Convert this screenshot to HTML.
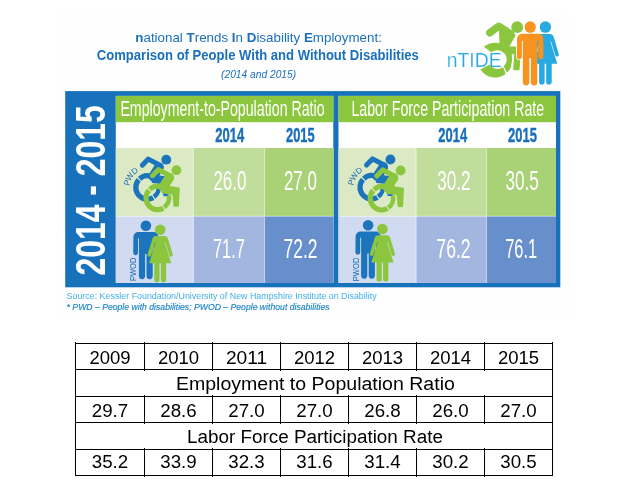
<!DOCTYPE html>
<html lang="en">
<head>
<meta charset="utf-8">
<title>nTIDE: National Trends in Disability Employment</title>
<style>
html,body{margin:0;padding:0;background:#fff;}
body{width:626px;height:504px;overflow:hidden;font-family:"Liberation Sans",sans-serif;}
svg{display:block;}
svg text{font-family:"Liberation Sans",sans-serif;}
</style>
</head>
<body>
<svg width="626" height="504" viewBox="0 0 626 504">
<defs>
  <!-- accessible icon, origin = wheel centre -->
  <g id="wc">
    <circle cx="18.75" cy="-27.8" r="4.9" stroke="none"/>
    <path d="M13,-22 L0.8,-28.4 L-5.2,-22.3" fill="none" stroke-width="5" stroke-linecap="round" stroke-linejoin="round"/>
    <path d="M11.6,-20.3 L5.6,-11" fill="none" stroke-width="9.6" stroke-linecap="round"/>
    <path d="M5,-12.4 L21.3,-9.7 L20.3,8 L16.6,8 L15.4,-4 L5,-5.2 Z" stroke-width="1.6" stroke-linejoin="round"/>
    <path d="M4.00,-10.99 A11.7,11.7 0 0 0 -7.90,-8.63 M-8.76,-7.75 A11.7,11.7 0 0 0 5.67,10.23" fill="none" stroke-width="5.2"/>
    <path d="M6.48,9.26 A11.3,11.3 0 0 0 10.96,-2.73" fill="none" stroke-width="4.6"/>
  </g>
  <g id="man">
    <circle cx="0" cy="-41.5" r="5.3"/>
    <path d="M-12.5,-30.5 a4.8,4.8 0 0 1 4.8,-4.8 h15.4 a4.8,4.8 0 0 1 4.8,4.8 v16 a2.4,2.4 0 0 1 -4.8,0 v-14.5 h-0.9 v37.8 a3.1,3.1 0 0 1 -6.2,0 v-22 h-1.4 v22 a3.1,3.1 0 0 1 -6.2,0 v-37.8 h-0.9 v14.5 a2.4,2.4 0 0 1 -4.8,0 z"/>
  </g>
  <g id="woman">
    <circle cx="0" cy="-41.5" r="5.3"/>
    <path d="M-4.4,-35.2 h8.8 a3.4,3.4 0 0 1 3.2,2.3 l5,16.2 a1.8,1.8 0 0 1 -3.4,1.1 l-4,-13 h-0.6 l6.5,20.7 h-5.2 v16.4 a2.6,2.6 0 0 1 -5.2,0 v-16.4 h-1.4 v16.4 a2.6,2.6 0 0 1 -5.2,0 v-16.4 h-5.2 l6.5,-20.7 h-0.6 l-4,13 a1.8,1.8 0 0 1 -3.4,-1.1 l5,-16.2 a3.4,3.4 0 0 1 3.2,-2.3 z"/>
  </g>
</defs>

<!-- page background -->
<rect x="0" y="0" width="626" height="504" fill="#ffffff"/>
<rect x="55" y="13.5" width="516" height="305" fill="#fefefe"/>

<!-- title -->
<g fill="#1a70bd">
  <text x="135.3" y="42.1" font-size="12.7" textLength="246.6" lengthAdjust="spacingAndGlyphs"><tspan font-weight="bold">n</tspan>ational <tspan font-weight="bold">T</tspan>rends <tspan font-weight="bold">I</tspan>n <tspan font-weight="bold">D</tspan>isability <tspan font-weight="bold">E</tspan>mployment:</text>
  <text x="96.8" y="60.1" font-size="14.1" font-weight="bold" textLength="322" lengthAdjust="spacingAndGlyphs">Comparison of People With and Without Disabilities</text>
  <text x="221.1" y="77.8" font-size="10.2" font-style="italic" textLength="75" lengthAdjust="spacingAndGlyphs">(2014 and 2015)</text>
</g>

<!-- logo -->
<g id="logo">
  <g fill="none" stroke="#8cc63f">
    <path d="M500,30.5 L514.6,35.2 L507.6,47.4 L519.6,47.4 L519.6,55 L518.6,69.2 L514.2,69.2 L515.2,53.2 L507,53.2 L500.5,45 Z" fill="#8cc63f" stroke-width="2" stroke-linejoin="round"/>
    <path d="M483.82,46.77 A17.4,17.4 0 0 1 506.87,72.83 L503.81,66.37 A9.4,9.4 0 0 0 491.36,52.30 Z M505.59,73.90 A17.4,17.4 0 0 1 480.41,69.58 L489.52,64.62 A9.4,9.4 0 0 0 503.12,66.96 Z" fill="#8cc63f" stroke="none"/>
    <path d="M512.9,54.3 L512.6,60 L511.6,66" stroke="#fff" stroke-width="1"/>
    <path d="M489.8,32.8 L498.7,26.2 L510.6,33.8" stroke-width="7.4" stroke-linecap="round" stroke-linejoin="round"/>
  </g>
  <circle cx="517.2" cy="27.2" r="5.9" fill="#8cc63f"/>
  <g fill="#fff" stroke="#fff" stroke-width="1.4"><use href="#man" transform="translate(530.2,72.4) scale(1.055,1.093)"/></g>
  <g fill="#27a9e1"><use href="#woman" transform="translate(545.4,72.4) scale(1.07,1.093)"/></g>
  <g fill="#f7931e"><use href="#man" transform="translate(530.2,72.4) scale(1.055,1.093)"/></g>
  <text x="446.8" y="66.6" font-size="20" fill="#27a9e1" stroke="#fff" stroke-width="0.18" textLength="54.8" lengthAdjust="spacingAndGlyphs">nTIDE</text>
</g>

<!-- blue frame -->
<rect x="65.2" y="91.1" width="495.1" height="196.2" fill="#1872bb"/>
<text transform="translate(105,275.6) rotate(-90)" font-size="42.6" font-weight="bold" fill="#fff" textLength="170.4" lengthAdjust="spacingAndGlyphs">2014 - 2015</text>

<!-- left panel -->
<g id="p1">
  <rect x="115.8" y="95.9" width="217.5" height="187" fill="#fff"/>
  <rect x="115.8" y="95.9" width="217.5" height="26.3" fill="#8cc63f"/>
  <rect x="115.8" y="148" width="217.5" height="68.2" fill="#dbeac5"/>
  <rect x="193.4" y="148" width="139.9" height="68.2" fill="#c1dd9b"/>
  <rect x="264.5" y="148" width="68.8" height="68.2" fill="#a9d276"/>
  <rect x="115.8" y="216.2" width="217.5" height="66.7" fill="#d0daf1"/>
  <rect x="193.4" y="216.2" width="139.9" height="66.7" fill="#a2b6e0"/>
  <rect x="264.5" y="216.2" width="68.8" height="66.7" fill="#678fcc"/>
  <g stroke="#fff" stroke-opacity="0.5" stroke-width="1.1">
    <path d="M193.4,148V282.9M264.5,148V282.9M115.8,216.2H333.3"/>
  </g>
  <text x="120.4" y="115.6" font-size="21.4" fill="#fff" textLength="204.2" lengthAdjust="spacingAndGlyphs">Employment-to-Population Ratio</text>
  <g font-size="20.2" font-weight="bold" fill="#1a6fba" stroke="#1a6fba" stroke-width="0.45">
    <text x="215.2" y="142.4" textLength="29" lengthAdjust="spacingAndGlyphs">2014</text>
    <text x="286.1" y="142.4" textLength="28.5" lengthAdjust="spacingAndGlyphs">2015</text>
  </g>
  <g font-size="27.5" fill="#fff">
    <text x="213.4" y="189.9" textLength="33" lengthAdjust="spacingAndGlyphs">26.0</text>
    <text x="283.9" y="189.9" textLength="33" lengthAdjust="spacingAndGlyphs">27.0</text>
    <text x="212.9" y="258.1" textLength="32" lengthAdjust="spacingAndGlyphs">71.7</text>
    <text x="283.5" y="258.1" textLength="34" lengthAdjust="spacingAndGlyphs">72.2</text>
  </g>
  <g fill="#1c75bc" stroke="#1c75bc"><use href="#wc" transform="translate(147.5,187.5)"/></g>
  <g fill="#8cc63f" stroke="#8cc63f"><use href="#wc" transform="translate(157.7,198)"/></g>
  <text font-size="8.3" fill="#1f6db5" x="129.3 130.0 134.1" y="186.0 181.4 175.0" rotate="-76.5 -58.5 -37.5">PWD</text>
  <g fill="#1c75bc"><use href="#man" transform="translate(145.9,267.3)"/></g>
  <g fill="#8cc63f"><use href="#woman" transform="translate(160.2,271.2)"/></g>
  <text transform="translate(136.4,281) rotate(-90)" font-size="9.6" fill="#1f6db5" textLength="23.4" lengthAdjust="spacingAndGlyphs">PWOD</text>
</g>

<!-- right panel -->
<g id="p2">
  <rect x="338.5" y="95.9" width="217.5" height="187" fill="#fff"/>
  <rect x="338.5" y="95.9" width="217.5" height="26.3" fill="#8cc63f"/>
  <rect x="338.5" y="148" width="217.5" height="68.2" fill="#dbeac5"/>
  <rect x="416.1" y="148" width="139.9" height="68.2" fill="#c1dd9b"/>
  <rect x="486.5" y="148" width="69.5" height="68.2" fill="#a9d276"/>
  <rect x="338.5" y="216.2" width="217.5" height="66.7" fill="#d0daf1"/>
  <rect x="416.1" y="216.2" width="139.9" height="66.7" fill="#a2b6e0"/>
  <rect x="486.5" y="216.2" width="69.5" height="66.7" fill="#678fcc"/>
  <g stroke="#fff" stroke-opacity="0.5" stroke-width="1.1">
    <path d="M416.1,148V282.9M486.5,148V282.9M338.5,216.2H556"/>
  </g>
  <text x="351.4" y="115.6" font-size="21.4" fill="#fff" textLength="192.8" lengthAdjust="spacingAndGlyphs">Labor Force Participation Rate</text>
  <g font-size="20.2" font-weight="bold" fill="#1a6fba" stroke="#1a6fba" stroke-width="0.45">
    <text x="438.3" y="142.4" textLength="28.8" lengthAdjust="spacingAndGlyphs">2014</text>
    <text x="508.1" y="142.4" textLength="28.8" lengthAdjust="spacingAndGlyphs">2015</text>
  </g>
  <g font-size="27.5" fill="#fff">
    <text x="437.2" y="189.9" textLength="33.5" lengthAdjust="spacingAndGlyphs">30.2</text>
    <text x="505.4" y="189.9" textLength="33.4" lengthAdjust="spacingAndGlyphs">30.5</text>
    <text x="436.3" y="258.1" textLength="34.4" lengthAdjust="spacingAndGlyphs">76.2</text>
    <text x="505.2" y="258.1" textLength="32" lengthAdjust="spacingAndGlyphs">76.1</text>
  </g>
  <g fill="#1c75bc" stroke="#1c75bc"><use href="#wc" transform="translate(371.7,187.3)"/></g>
  <g fill="#8cc63f" stroke="#8cc63f"><use href="#wc" transform="translate(381.9,198.3)"/></g>
  <text font-size="8.3" fill="#1f6db5" x="353.5 354.2 358.3" y="185.8 181.2 174.8" rotate="-76.5 -58.5 -37.5">PWD</text>
  <g fill="#1c75bc"><use href="#man" transform="translate(368.1,266.8)"/></g>
  <g fill="#8cc63f"><use href="#woman" transform="translate(382.4,270.5)"/></g>
  <text transform="translate(359.3,281.2) rotate(-90)" font-size="9.6" fill="#1f6db5" textLength="23.6" lengthAdjust="spacingAndGlyphs">PWOD</text>
</g>

<!-- footnotes -->
<text x="66.6" y="298.9" font-size="8.7" fill="#3fb0e6" textLength="310" lengthAdjust="spacingAndGlyphs">Source: Kessler Foundation/University of New Hampshire Institute on Disability</text>
<text x="66.6" y="310.2" font-size="8.7" font-style="italic" fill="#1b85c8" stroke="#1b85c8" stroke-width="0.15" textLength="263" lengthAdjust="spacingAndGlyphs">* PWD – People with disabilities; PWOD – People without disabilities</text>

<!-- data table -->
<g id="tbl">
  <g stroke="#000" stroke-width="1" fill="none" shape-rendering="crispEdges">
    <path d="M75.0,343.5H553.0M75.0,369.5H553.0M75.0,396.5H553.0M75.0,422.5H553.0M75.0,449.5H553.0M75.0,475.5H553.0M75.5,341.5V476.0M144.5,341.5V371.0M144.5,394.5V424.0M144.5,447.5V477.0M212.5,341.5V371.0M212.5,394.5V424.0M212.5,447.5V477.0M280.5,341.5V371.0M280.5,394.5V424.0M280.5,447.5V477.0M348.5,341.5V371.0M348.5,394.5V424.0M348.5,447.5V477.0M416.5,341.5V371.0M416.5,394.5V424.0M416.5,447.5V477.0M484.5,341.5V371.0M484.5,394.5V424.0M484.5,447.5V477.0M552.5,341.5V476.0"/>
  </g>
  <g font-size="18" fill="#000" text-anchor="middle">
    <text x="110.0" y="364.3" textLength="41.2" lengthAdjust="spacingAndGlyphs">2009</text>
    <text x="178.5" y="364.3" textLength="41.2" lengthAdjust="spacingAndGlyphs">2010</text>
    <text x="246.5" y="364.3" textLength="41.2" lengthAdjust="spacingAndGlyphs">2011</text>
    <text x="314.5" y="364.3" textLength="41.2" lengthAdjust="spacingAndGlyphs">2012</text>
    <text x="382.5" y="364.3" textLength="41.2" lengthAdjust="spacingAndGlyphs">2013</text>
    <text x="450.5" y="364.3" textLength="41.2" lengthAdjust="spacingAndGlyphs">2014</text>
    <text x="518.5" y="364.3" textLength="41.2" lengthAdjust="spacingAndGlyphs">2015</text>
    <text x="110.0" y="416.9" textLength="36.4" lengthAdjust="spacingAndGlyphs">29.7</text>
    <text x="178.5" y="416.9" textLength="36.4" lengthAdjust="spacingAndGlyphs">28.6</text>
    <text x="246.5" y="416.9" textLength="36.4" lengthAdjust="spacingAndGlyphs">27.0</text>
    <text x="314.5" y="416.9" textLength="36.4" lengthAdjust="spacingAndGlyphs">27.0</text>
    <text x="382.5" y="416.9" textLength="36.4" lengthAdjust="spacingAndGlyphs">26.8</text>
    <text x="450.5" y="416.9" textLength="36.4" lengthAdjust="spacingAndGlyphs">26.0</text>
    <text x="518.5" y="416.9" textLength="36.4" lengthAdjust="spacingAndGlyphs">27.0</text>
    <text x="110.0" y="468.2" textLength="36.4" lengthAdjust="spacingAndGlyphs">35.2</text>
    <text x="178.5" y="468.2" textLength="36.4" lengthAdjust="spacingAndGlyphs">33.9</text>
    <text x="246.5" y="468.2" textLength="36.4" lengthAdjust="spacingAndGlyphs">32.3</text>
    <text x="314.5" y="468.2" textLength="36.4" lengthAdjust="spacingAndGlyphs">31.6</text>
    <text x="382.5" y="468.2" textLength="36.4" lengthAdjust="spacingAndGlyphs">31.4</text>
    <text x="450.5" y="468.2" textLength="36.4" lengthAdjust="spacingAndGlyphs">30.2</text>
    <text x="518.5" y="468.2" textLength="36.4" lengthAdjust="spacingAndGlyphs">30.5</text>
    <text x="315.4" y="390.2" textLength="278.9" lengthAdjust="spacingAndGlyphs">Employment to Population Ratio</text>
    <text x="315" y="442.5" textLength="255.8" lengthAdjust="spacingAndGlyphs">Labor Force Participation Rate</text>
  </g>
</g>
</svg>
</body>
</html>
